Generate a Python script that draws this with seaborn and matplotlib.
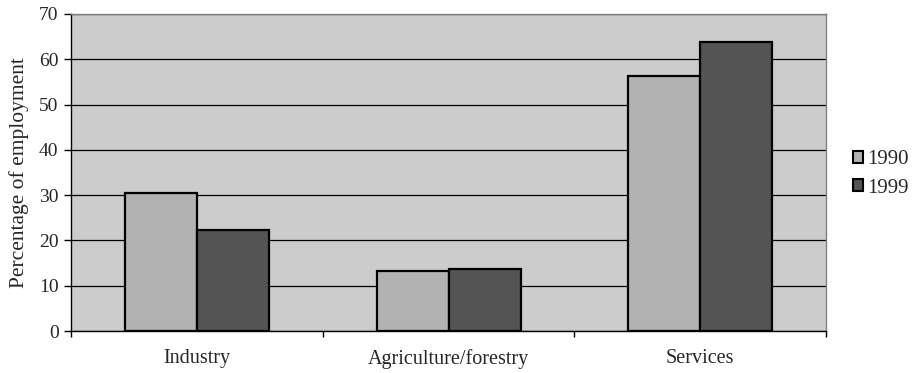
import matplotlib
matplotlib.use("Agg")
import matplotlib.pyplot as plt
import seaborn as sns
import pandas as pd
from matplotlib.patches import Patch

sectors = ["Industry", "Agriculture/forestry", "Services"]
years = ["1990", "1999"]
share_1990 = [30.4, 13.2, 56.4]
share_1999 = [22.4, 13.7, 63.8]
y_ticks = [0, 10, 20, 30, 40, 50, 60, 70]

df = pd.DataFrame({
    "sector": sectors * 2,
    "year": [years[0]] * 3 + [years[1]] * 3,
    "share": share_1990 + share_1999,
})

sns.set_theme(style="white")
plt.rcParams["font.family"] = ["Liberation Serif", "DejaVu Serif"]

colors = {"1990": "#b2b2b2", "1999": "#545454"}

fig = plt.figure(figsize=(9.13, 3.73), dpi=100)
ax = fig.add_axes([0.0778, 0.1126, 0.827, 0.8499])
ax.set_facecolor("#cccccc")

sns.barplot(data=df, x="sector", y="share", hue="year", order=sectors,
            hue_order=years, palette=colors, width=0.572, gap=0,
            edgecolor="black", linewidth=1.6, saturation=1, ax=ax,
            legend=False, zorder=3)

ax.set_ylim(0, 70)
ax.set_xlim(-0.5, 2.5)
ax.set_yticks(y_ticks)
ax.yaxis.grid(True, color="black", linewidth=0.9, zorder=0)
ax.set_axisbelow(True)

ax.tick_params(axis="y", which="major", direction="out", length=5, width=1,
               color="black", labelsize=14, left=True, pad=4)
ax.tick_params(axis="x", which="major", length=0, labelsize=14.5, pad=13)
ax.set_xticks([-0.5, 0.5, 1.5, 2.5], minor=True)
ax.tick_params(axis="x", which="minor", direction="out", length=4, width=1,
               color="black", bottom=True)

ax.set_xlabel("")
ax.set_ylabel("Percentage of employment", fontsize=15.5, labelpad=7)

for side in ["left", "bottom"]:
    ax.spines[side].set_color("black")
    ax.spines[side].set_linewidth(1.0)
for side in ["top", "right"]:
    ax.spines[side].set_color("#808080")
    ax.spines[side].set_linewidth(1.0)

handles = [Patch(facecolor=colors[y], edgecolor="black", linewidth=1.5, label=y)
           for y in years]
ax.legend(handles=handles, loc="center left", bbox_to_anchor=(1.016, 0.495),
          frameon=False, fontsize=15, handlelength=0.5, handleheight=0.5,
          handletextpad=0.2, labelspacing=0.45, borderaxespad=0.3)

fig.savefig("out.png", dpi=100)
